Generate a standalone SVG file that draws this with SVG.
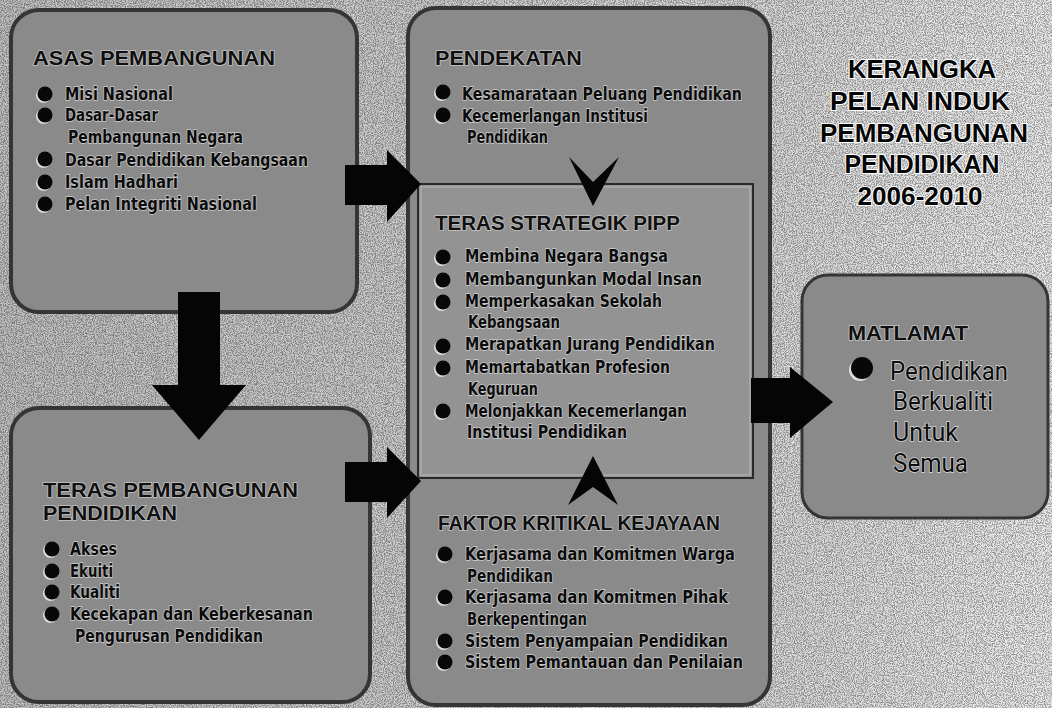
<svg xmlns="http://www.w3.org/2000/svg" xmlns:xlink="http://www.w3.org/1999/xlink" width="1052" height="708" viewBox="0 0 1052 708">
<defs>
<linearGradient id="bg" x1="0" y1="0" x2="1" y2="0">
<stop offset="0" stop-color="#c2c2c2"/>
<stop offset="0.7" stop-color="#d6d6d6"/>
<stop offset="1" stop-color="#ececec"/>
</linearGradient>
<filter id="grain" x="0" y="0" width="100%" height="100%">
<feTurbulence type="fractalNoise" baseFrequency="0.9" numOctaves="2" seed="4" result="n"/>
<feColorMatrix in="n" type="matrix" values="0 0 0 0 0  0 0 0 0 0  0 0 0 0 0  4 0 0 0 -1.6"/>
<feComposite in2="SourceGraphic" operator="in"/>
</filter>
<g id="bul"><circle cx="-1.5" cy="1.5" r="7.5" fill="#dcdcdc"/><circle r="7.5" fill="#080808"/></g>
<g id="bulL"><circle cx="-2" cy="2" r="11" fill="#dcdcdc"/><circle r="11" fill="#080808"/></g>
</defs>
<style>
.box{fill:#8a8a8a;stroke:#353535;stroke-width:4}
.inner{fill:#939393;stroke:#2a2a2a;stroke-width:2}
.arr{fill:#050505}
.h{font-family:"Liberation Sans",Arial,sans-serif;font-weight:bold;font-size:21px;fill:#101010;stroke:#c4c4c4;stroke-width:1.6px;paint-order:stroke}
.t{font-family:"Liberation Sans Narrow","DejaVu Sans Condensed","Liberation Sans",sans-serif;font-weight:bold;font-size:18px;fill:#0c0c0c;stroke:#cfcfcf;stroke-width:1.4px;paint-order:stroke}
.title{font-family:"Liberation Sans",Arial,sans-serif;font-weight:bold;font-size:25px;fill:#050505;stroke:#ffffff;stroke-width:2px;paint-order:stroke;text-anchor:middle}
.m{font-family:"Roboto","Liberation Sans",sans-serif;font-size:25px;fill:#0c0c0c;stroke:#d8d8d8;stroke-width:1.4px;paint-order:stroke}
</style>
<rect x="0" y="0" width="1052" height="708" fill="url(#bg)"/>
<rect x="0" y="0" width="1052" height="708" fill="#000" filter="url(#grain)" opacity="0.35"/>

<g id="title">
<text class="title" x="922" y="78" textLength="148" lengthAdjust="spacingAndGlyphs">KERANGKA</text>
<text class="title" x="920" y="110" textLength="180" lengthAdjust="spacingAndGlyphs">PELAN INDUK</text>
<text class="title" x="924" y="142" textLength="208" lengthAdjust="spacingAndGlyphs">PEMBANGUNAN</text>
<text class="title" x="922" y="173" textLength="155" lengthAdjust="spacingAndGlyphs">PENDIDIKAN</text>
<text class="title" x="920" y="205" textLength="125" lengthAdjust="spacingAndGlyphs">2006-2010</text>
</g>

<g id="asas">
<rect class="box" x="11" y="10" width="346" height="302" rx="28"/>
<text class="h" x="33" y="65" textLength="242" lengthAdjust="spacingAndGlyphs">ASAS PEMBANGUNAN</text>
<use href="#bul" x="45" y="94"/>
<use href="#bul" x="45" y="115"/>
<use href="#bul" x="45" y="159"/>
<use href="#bul" x="45" y="182"/>
<use href="#bul" x="45" y="204"/>
<text class="t" x="65" y="100" textLength="108" lengthAdjust="spacingAndGlyphs">Misi Nasional</text>
<text class="t" x="65" y="121" textLength="93" lengthAdjust="spacingAndGlyphs">Dasar-Dasar</text>
<text class="t" x="68" y="143" textLength="175" lengthAdjust="spacingAndGlyphs">Pembangunan Negara</text>
<text class="t" x="65" y="166" textLength="243" lengthAdjust="spacingAndGlyphs">Dasar Pendidikan Kebangsaan</text>
<text class="t" x="65" y="188" textLength="113" lengthAdjust="spacingAndGlyphs">Islam Hadhari</text>
<text class="t" x="65" y="210" textLength="192" lengthAdjust="spacingAndGlyphs">Pelan Integriti Nasional</text>
</g>

<g id="teras-pembangunan">
<rect class="box" x="11" y="408" width="359" height="294" rx="28"/>
<text class="h" x="43" y="497" textLength="255" lengthAdjust="spacingAndGlyphs">TERAS PEMBANGUNAN</text>
<text class="h" x="43" y="520" textLength="134" lengthAdjust="spacingAndGlyphs">PENDIDIKAN</text>
<use href="#bul" x="52" y="549"/>
<use href="#bul" x="52" y="571"/>
<use href="#bul" x="52" y="592"/>
<use href="#bul" x="52" y="614"/>
<text class="t" x="70" y="555" textLength="47" lengthAdjust="spacingAndGlyphs">Akses</text>
<text class="t" x="70" y="577" textLength="43" lengthAdjust="spacingAndGlyphs">Ekuiti</text>
<text class="t" x="70" y="598" textLength="50" lengthAdjust="spacingAndGlyphs">Kualiti</text>
<text class="t" x="70" y="620" textLength="243" lengthAdjust="spacingAndGlyphs">Kecekapan dan Keberkesanan</text>
<text class="t" x="75" y="642" textLength="188" lengthAdjust="spacingAndGlyphs">Pengurusan Pendidikan</text>
</g>

<g id="pipp">
<rect class="box" x="408" y="8" width="362" height="697" rx="28"/>
<rect class="inner" x="418" y="184" width="335" height="294"/>
<rect x="421" y="187" width="329" height="288" fill="none" stroke="#b8b8b8" stroke-width="1"/>
</g>

<g id="pendekatan">
<text class="h" x="435" y="65" textLength="147" lengthAdjust="spacingAndGlyphs">PENDEKATAN</text>
<use href="#bul" x="443" y="92"/>
<use href="#bul" x="443" y="115"/>
<text class="t" x="462" y="100" textLength="280" lengthAdjust="spacingAndGlyphs">Kesamarataan Peluang Pendidikan</text>
<text class="t" x="462" y="122" textLength="186" lengthAdjust="spacingAndGlyphs">Kecemerlangan Institusi</text>
<text class="t" x="467" y="143" textLength="81" lengthAdjust="spacingAndGlyphs">Pendidikan</text>
</g>

<g id="teras-strategik">
<text class="h" x="435" y="230" textLength="245" lengthAdjust="spacingAndGlyphs">TERAS STRATEGIK PIPP</text>
<use href="#bul" x="443" y="257"/>
<use href="#bul" x="443" y="280"/>
<use href="#bul" x="443" y="302"/>
<use href="#bul" x="443" y="346"/>
<use href="#bul" x="443" y="368"/>
<use href="#bul" x="443" y="411"/>
<text class="t" x="465" y="262" textLength="203" lengthAdjust="spacingAndGlyphs">Membina Negara Bangsa</text>
<text class="t" x="465" y="285" textLength="237" lengthAdjust="spacingAndGlyphs">Membangunkan Modal Insan</text>
<text class="t" x="465" y="307" textLength="197" lengthAdjust="spacingAndGlyphs">Memperkasakan Sekolah</text>
<text class="t" x="468" y="328" textLength="92" lengthAdjust="spacingAndGlyphs">Kebangsaan</text>
<text class="t" x="465" y="350" textLength="250" lengthAdjust="spacingAndGlyphs">Merapatkan Jurang Pendidikan</text>
<text class="t" x="465" y="373" textLength="205" lengthAdjust="spacingAndGlyphs">Memartabatkan Profesion</text>
<text class="t" x="468" y="395" textLength="70" lengthAdjust="spacingAndGlyphs">Keguruan</text>
<text class="t" x="465" y="417" textLength="222" lengthAdjust="spacingAndGlyphs">Melonjakkan Kecemerlangan</text>
<text class="t" x="467" y="438" textLength="160" lengthAdjust="spacingAndGlyphs">Institusi Pendidikan</text>
</g>

<g id="faktor">
<text class="h" x="438" y="530" textLength="282" lengthAdjust="spacingAndGlyphs">FAKTOR KRITIKAL KEJAYAAN</text>
<use href="#bul" x="445" y="554"/>
<use href="#bul" x="445" y="597"/>
<use href="#bul" x="445" y="641"/>
<use href="#bul" x="445" y="662"/>
<text class="t" x="465" y="560" textLength="270" lengthAdjust="spacingAndGlyphs">Kerjasama dan Komitmen Warga</text>
<text class="t" x="467" y="582" textLength="86" lengthAdjust="spacingAndGlyphs">Pendidikan</text>
<text class="t" x="465" y="603" textLength="263" lengthAdjust="spacingAndGlyphs">Kerjasama dan Komitmen Pihak</text>
<text class="t" x="467" y="625" textLength="120" lengthAdjust="spacingAndGlyphs">Berkepentingan</text>
<text class="t" x="465" y="647" textLength="263" lengthAdjust="spacingAndGlyphs">Sistem Penyampaian Pendidikan</text>
<text class="t" x="465" y="668" textLength="278" lengthAdjust="spacingAndGlyphs">Sistem Pemantauan dan Penilaian</text>
</g>

<g id="matlamat">
<rect class="box" x="802" y="275" width="246" height="243" rx="26" style="stroke-width:3"/>
<text class="h" x="848" y="340" textLength="120" lengthAdjust="spacingAndGlyphs" style="font-size:20px">MATLAMAT</text>
<use href="#bulL" x="862" y="368"/>
<text class="m" x="890" y="380" textLength="118" lengthAdjust="spacingAndGlyphs">Pendidikan</text>
<text class="m" x="893" y="410" textLength="100" lengthAdjust="spacingAndGlyphs">Berkualiti</text>
<text class="m" x="893" y="441" textLength="65" lengthAdjust="spacingAndGlyphs">Untuk</text>
<text class="m" x="893" y="472" textLength="75" lengthAdjust="spacingAndGlyphs">Semua</text>
</g>

<g id="connectors">
<polygon class="arr" points="345,165 387,165 387,150 421,184 387,222 387,205 345,205"/>
<polygon class="arr" points="345,462 387,462 387,447 421,481 387,518 387,502 345,502"/>
<polygon class="arr" points="178,292 220,292 220,385 246,385 199,440 152,385 178,385"/>
<polygon class="arr" points="751,378 790,378 790,367 833,402 790,438 790,423 751,423"/>
<polygon class="arr" points="569,157 593,182 619,157 593,206"/>
<polygon class="arr" points="593,456 618,505 593,487 568,505"/>
</g>
</svg>
